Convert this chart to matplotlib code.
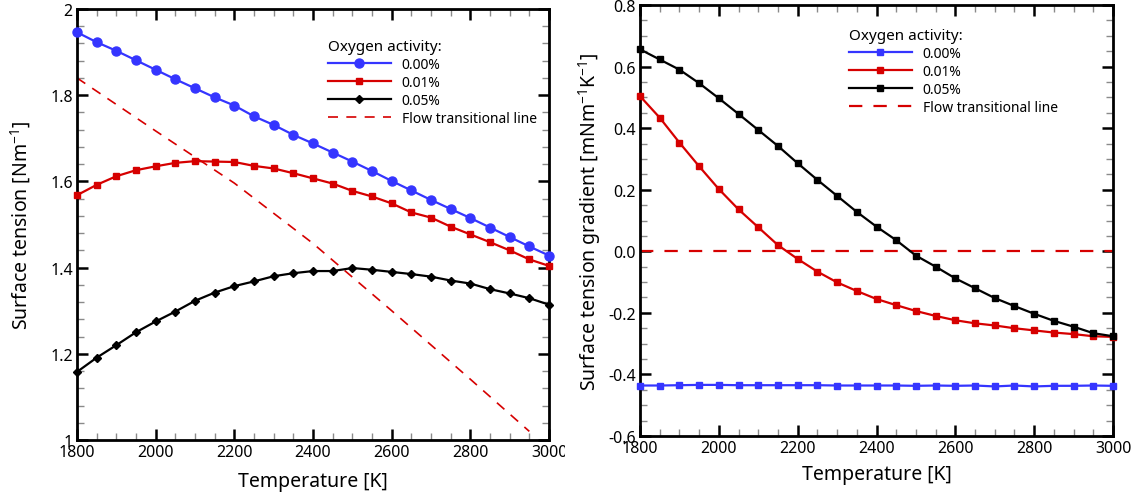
import matplotlib
matplotlib.use("Agg")
import matplotlib.pyplot as plt
from matplotlib.ticker import MultipleLocator, FormatStrFormatter, FuncFormatter
from matplotlib.transforms import Bbox

plt.rcParams['font.family'] = ['Noto Sans', 'DejaVu Sans']

# ---------------- data ----------------
temperature = [1800, 1850, 1900, 1950, 2000, 2050, 2100, 2150, 2200, 2250, 2300, 2350,
               2400, 2450, 2500, 2550, 2600, 2650, 2700, 2750, 2800, 2850, 2900, 2950, 3000]

tension_000 = [1.946, 1.923, 1.903, 1.881, 1.859, 1.837, 1.816, 1.795, 1.776, 1.751, 1.731, 1.708,
               1.688, 1.667, 1.646, 1.624, 1.601, 1.579, 1.557, 1.536, 1.515, 1.493, 1.471, 1.449, 1.428]
tension_001 = [1.568, 1.592, 1.612, 1.626, 1.635, 1.643, 1.647, 1.646, 1.645, 1.636, 1.630, 1.619,
               1.607, 1.595, 1.578, 1.565, 1.549, 1.528, 1.516, 1.495, 1.477, 1.459, 1.440, 1.419, 1.404]
tension_005 = [1.158, 1.191, 1.220, 1.250, 1.275, 1.298, 1.323, 1.342, 1.357, 1.368, 1.380, 1.387,
               1.392, 1.392, 1.399, 1.395, 1.390, 1.385, 1.379, 1.370, 1.363, 1.350, 1.340, 1.329, 1.314]

transition_T = [1800, 2000, 2200, 2400, 2600, 2800, 2950]
transition_tension = [1.840, 1.717, 1.596, 1.456, 1.300, 1.141, 1.020]

gradient_000 = [-0.436, -0.436, -0.435, -0.434, -0.434, -0.435, -0.435, -0.435, -0.435, -0.435, -0.436, -0.436,
                -0.436, -0.436, -0.437, -0.436, -0.437, -0.436, -0.439, -0.436, -0.439, -0.437, -0.437, -0.436, -0.437]
gradient_001 = [0.504, 0.434, 0.353, 0.276, 0.202, 0.136, 0.078, 0.020, -0.025, -0.066, -0.101, -0.129,
                -0.155, -0.175, -0.194, -0.210, -0.224, -0.234, -0.241, -0.250, -0.257, -0.264, -0.269, -0.276, -0.278]
gradient_005 = [0.656, 0.623, 0.590, 0.546, 0.497, 0.446, 0.394, 0.342, 0.286, 0.232, 0.180, 0.128,
                0.080, 0.036, -0.014, -0.050, -0.088, -0.120, -0.152, -0.178, -0.203, -0.226, -0.245, -0.266, -0.276]

transition_gradient_T = [1800, 3000]
transition_gradient = [0.0, 0.0]

series_labels = ['0.00%', '0.01%', '0.05%']
transition_label = 'Flow transitional line'
legend_title = 'Oxygen activity:'

BLUE = '#3535ff'
RED = '#d60000'
BLACK = '#000000'

fig = plt.figure(figsize=(11.36, 5.02), dpi=100)
W, H = 1136, 502

def px_axes(x0, y0, x1, y1):
    return fig.add_axes([x0 / W, 1 - y1 / H, (x1 - x0) / W, (y1 - y0) / H])

axL = px_axes(77, 10, 549, 441)
axR = px_axes(640, 6, 1113, 437)

def style(ax):
    for s in ax.spines.values():
        s.set_linewidth(2)
    ax.tick_params(which='both', direction='in', top=True, right=True, labelsize=11.5, pad=3)
    ax.tick_params(which='major', length=8, width=1.8, color='black')
    ax.tick_params(which='minor', length=5, width=1, color='#8a8a8a')
    ax.xaxis.set_major_locator(MultipleLocator(200))
    ax.xaxis.set_minor_locator(MultipleLocator(50))
    ax.set_xlim(1800, 3000)

# ---------------- left panel ----------------
style(axL)
axL.plot(temperature, tension_000, '-o', color=BLUE, lw=1.6, ms=6.5, label=series_labels[0], clip_on=False, zorder=3)
axL.plot(temperature, tension_001, '-s', color=RED, lw=1.6, ms=5, label=series_labels[1], clip_on=False, zorder=3)
axL.plot(temperature, tension_005, '-D', color=BLACK, lw=1.6, ms=4.5, label=series_labels[2], clip_on=False, zorder=3)
axL.plot(transition_T, transition_tension, color=RED, lw=1.2, dashes=(6, 5), label=transition_label)
axL.set_ylim(1, 2)
axL.yaxis.set_major_locator(MultipleLocator(0.2))
axL.yaxis.set_minor_locator(MultipleLocator(0.04))
axL.yaxis.set_major_formatter(FuncFormatter(lambda v, p: f'{v:g}'))
axL.set_xlabel('Temperature [K]', fontsize=14, labelpad=8)
axL.set_ylabel('Surface tension [Nm$^{\\mathregular{-1}}$]', fontsize=14, labelpad=12)
legL = axL.legend(title=legend_title, loc='upper left', bbox_to_anchor=(328 / W, 1 - 40 / H),
                  bbox_transform=fig.transFigure, frameon=False, fontsize=10, title_fontsize=11,
                  handlelength=4.5, handletextpad=0.8, labelspacing=0.22, borderpad=0,
                  borderaxespad=0, alignment='left')

# ---------------- right panel ----------------
style(axR)
axR.plot(temperature, gradient_000, '-s', color=BLUE, lw=1.6, ms=4.5, label=series_labels[0], clip_on=False, zorder=3)
axR.plot(temperature, gradient_001, '-s', color=RED, lw=1.6, ms=4.5, label=series_labels[1], clip_on=False, zorder=3)
axR.plot(temperature, gradient_005, '-s', color=BLACK, lw=1.6, ms=4.5, label=series_labels[2], clip_on=False, zorder=3)
axR.plot(transition_gradient_T, transition_gradient, color=RED, lw=1.6, dashes=(6, 5), label=transition_label)
axR.set_ylim(-0.6, 0.8)
axR.yaxis.set_major_locator(MultipleLocator(0.2))
axR.yaxis.set_minor_locator(MultipleLocator(0.05))
axR.yaxis.set_major_formatter(FormatStrFormatter('%.1f'))
axR.set_xlabel('Temperature [K]', fontsize=14, labelpad=6)
axR.set_ylabel('Surface tension gradient [mNm$^{\\mathregular{-1}}$K$^{\\mathregular{-1}}$]', fontsize=14, labelpad=4)
legR = axR.legend(title=legend_title, loc='upper left', bbox_to_anchor=(849 / W, 1 - 29 / H),
                  bbox_transform=fig.transFigure, frameon=False, fontsize=10, title_fontsize=11,
                  handlelength=4.5, handletextpad=0.8, labelspacing=0.22, borderpad=0,
                  borderaxespad=0, alignment='left')

# clip the left panel's last tick label like the reference (cut at the panel boundary)
fig.canvas.draw()
clip = Bbox.from_extents(0, 0, 565, H)
for lab in axL.get_xticklabels():
    lab.set_clip_on(True)
    lab.set_clip_box(clip)

fig.savefig('out.png', dpi=100)
